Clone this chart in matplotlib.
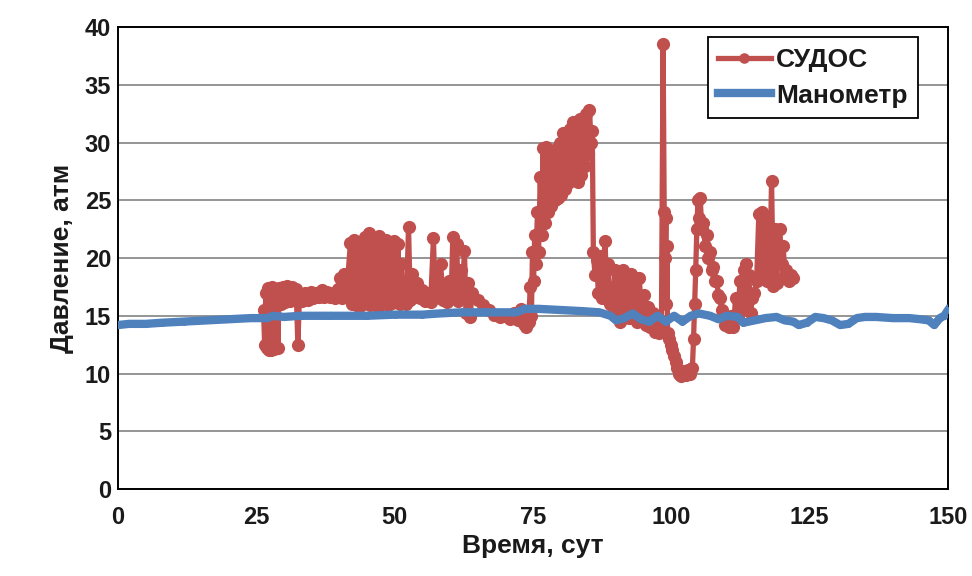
import matplotlib
matplotlib.use("Agg")
import matplotlib.pyplot as plt

plt.rcParams['font.family'] = ['Liberation Sans', 'DejaVu Sans']

# СУДОС readings (day, atm)
sudos_t = [26.3, 26.5, 26.7, 26.9, 27.1, 27.3, 27.5, 27.7, 27.9, 28.1, 28.3, 28.5, 28.7, 28.9, 29.1,
           29.4, 29.8, 30.2, 30.6, 31.0, 31.4, 31.8, 32.2, 32.5, 32.8,
           33.3, 33.8, 34.3, 34.8, 35.3, 35.8, 36.3, 36.8, 37.3, 37.8, 38.3, 38.8, 39.3, 39.8,
           40.2, 40.5, 40.8, 41.1, 41.4,
           42.0, 42.3, 42.6, 42.9, 43.3, 43.6, 44.0, 44.3, 44.7, 45.0, 45.3, 45.6, 46.0, 46.3, 46.6, 46.9,
           47.2, 47.5, 47.9, 48.2, 48.5, 48.8, 49.2, 49.5, 49.9, 50.2, 50.6, 50.9, 51.2, 51.5, 51.8, 52.1,
           52.5, 52.8, 53.2, 53.6, 54.0, 54.5, 55.0,
           55.5, 56.0, 56.5, 57.0, 57.3, 57.7, 58.0, 58.3, 58.7, 59.0, 59.4, 59.8, 60.2, 60.5, 60.8, 61.2,
           61.5, 61.9, 62.2, 62.6, 62.9, 63.3, 63.6, 64.0,
           65.0, 66.0, 67.0, 68.0, 69.0, 70.0, 70.8, 71.5, 72.2, 72.8, 73.3, 73.8, 74.2,
           74.5, 74.7, 74.9, 75.1, 75.3, 75.5, 75.8, 76.0, 76.3, 76.6, 76.8, 77.1, 77.4, 77.7, 78.0, 78.3,
           78.6, 78.9, 79.2, 79.5, 79.8, 80.1, 80.4, 80.7, 81.0, 81.3, 81.6, 81.9, 82.2, 82.5, 82.8, 83.1,
           83.4, 83.7, 84.0, 84.3, 84.6, 84.9, 85.2, 85.5, 85.7,
           85.9, 86.2, 86.5, 86.8, 87.1, 87.4, 87.7, 88.0, 88.3, 88.6, 88.9, 89.2, 89.5,
           89.8, 90.1, 90.5, 90.8, 91.2, 91.5, 91.9, 92.3, 92.7, 93.0, 93.4, 93.8, 94.2, 94.6, 95.0, 95.4,
           95.8, 96.2, 96.6, 97.0, 97.4, 97.8, 98.2,
           98.5, 98.7, 98.9, 99.0, 99.1, 99.2, 99.3, 99.6, 99.9, 100.2, 100.5, 100.8, 101.1, 101.4, 101.8,
           102.2, 102.6, 103.0, 103.4, 103.8,
           104.0, 104.2, 104.4, 104.6, 104.8, 105.0, 105.2, 105.5, 105.8, 106.1, 106.4, 106.7, 107.0, 107.3,
           107.6, 107.9, 108.2, 108.5, 108.8, 109.1, 109.4, 109.7,
           110.0, 110.4, 110.8, 111.2, 111.6, 112.0, 112.4, 112.8, 113.1, 113.4, 113.7, 114.0, 114.3, 114.6,
           115.0, 115.4, 115.8, 116.0, 116.3, 116.6, 116.9, 117.2, 117.5, 117.8, 118.1, 118.4, 118.7, 119.0,
           119.3, 119.6, 119.9, 120.2, 120.5, 120.8, 121.2, 121.6, 122.0]
sudos_p = [15.5, 12.5, 17.0, 12.2, 17.4, 12.0, 16.8, 12.0, 17.5, 12.1, 17.3, 12.3, 16.5, 12.2, 17.4,
           16.0, 17.5, 16.2, 17.6, 16.3, 17.5, 16.4, 17.3, 12.5, 16.8,
           16.3, 17.0, 16.4, 17.1, 16.5, 17.0, 16.6, 17.2, 16.6, 17.1, 16.6, 17.0, 16.5, 17.3,
           18.3, 16.5, 18.6, 16.8, 17.5,
           21.3, 16.0, 21.6, 16.2, 21.0, 15.8, 20.5, 16.0, 21.8, 16.2, 22.2, 15.9, 21.6, 16.1, 21.0, 15.8,
           21.9, 16.0, 21.3, 16.3, 21.6, 15.9, 20.8, 16.1, 21.5, 16.3, 21.2, 16.0, 19.5, 16.2, 17.5, 16.0,
           22.7, 16.4, 18.6, 16.6, 17.8, 16.5, 17.2,
           16.3, 17.0, 16.2, 21.7, 16.5, 18.5, 16.8, 19.5, 16.4, 17.6, 16.2, 18.0, 16.5, 21.8, 16.8, 21.2,
           16.3, 19.0, 16.6, 20.6, 15.2, 17.8, 14.9, 17.0,
           16.4, 15.9, 15.5, 15.1, 14.9, 15.0, 14.7, 15.2, 14.6, 15.6, 14.3, 14.0, 14.5,
           17.5, 15.0, 20.5, 18.0, 22.0, 19.5, 24.0, 20.5, 27.0, 22.0, 29.5, 23.0, 29.6, 24.0, 29.3, 24.5,
           29.0, 25.0, 29.4, 25.2, 30.0, 25.5, 30.8, 26.0, 30.5, 26.5, 31.2, 27.0, 31.8, 27.0, 31.5, 26.6,
           32.0, 27.2, 31.0, 28.0, 32.5, 29.0, 32.8, 30.0, 31.0,
           20.5, 18.5, 19.8, 17.0, 20.2, 16.5, 19.0, 21.5, 17.5, 19.5, 16.0, 17.5, 15.2,
           19.0, 15.0, 18.8, 14.5, 19.0, 15.5, 18.0, 14.8, 18.6, 15.2, 17.5, 14.5, 18.3, 14.8, 16.8, 14.2,
           15.8, 14.0, 15.2, 13.6, 14.3, 13.5, 14.0,
           38.5, 24.0, 20.0, 23.5, 16.0, 21.0, 13.5, 13.0, 12.5, 12.0, 11.5, 11.0, 10.5, 10.0, 9.8,
           10.2, 9.9, 10.3, 10.0, 10.5,
           13.0, 16.0, 19.0, 22.5, 25.0, 23.5, 25.2, 22.5, 23.0, 21.0, 22.0, 20.0, 20.5, 19.0,
           19.2, 18.0, 18.0, 16.8, 16.5, 15.5, 15.0, 14.2,
           14.5, 14.0, 15.0, 14.0, 16.5, 14.8, 18.0, 15.5, 19.0, 19.5, 16.0, 18.5, 15.2, 16.5,
           17.0, 18.0, 23.8, 18.5, 24.0, 19.0, 23.5, 18.0, 22.5, 19.0, 26.7, 17.6, 22.5, 17.8,
           20.5, 22.5, 19.5, 21.0, 18.5, 19.0, 18.0, 18.5, 18.3]

# Манометр readings
mano_t = [0, 2, 5, 8, 12, 16, 20, 24, 27, 28, 30, 33, 38, 45, 50, 55, 58, 62, 68, 72, 73.5, 76, 80,
          84, 87, 89, 90, 91.5, 93, 94.5, 96, 97.5, 99, 100.5, 102, 103.5, 105, 107, 108.5, 110, 112,
          113, 115, 117, 119, 120.5, 122, 123, 124.5, 126, 127.5, 129, 130.5, 132, 133.5, 135, 137,
          140, 143, 145, 146.5, 147.5, 148.5, 149.3, 150]
mano_p = [14.2, 14.3, 14.3, 14.4, 14.5, 14.6, 14.7, 14.8, 14.8, 15.0, 14.9, 15.0, 15.0, 15.0, 15.1,
          15.1, 15.2, 15.3, 15.3, 15.3, 15.6, 15.6, 15.5, 15.4, 15.3, 15.0, 14.6, 14.8, 15.2, 14.7,
          14.5, 15.0, 14.5, 15.0, 14.5, 15.0, 15.2, 15.0, 14.7, 15.0, 14.9, 14.4, 14.6, 14.8, 14.9,
          14.6, 14.5, 14.2, 14.4, 14.9, 14.8, 14.6, 14.2, 14.3, 14.8, 14.9, 14.9, 14.8, 14.8, 14.7,
          14.6, 14.2, 14.8, 15.0, 15.5]

fig = plt.figure(figsize=(9.72, 5.76), dpi=100)
ax = fig.add_axes([0.1214, 0.151, 0.854, 0.802])

ax.plot(sudos_t, sudos_p, color='#C0504D', lw=3.8, marker='o', ms=9.5,
        markeredgewidth=0, label='СУДОС', zorder=2)
ax.plot(mano_t, mano_p, color='#4F81BD', lw=6, marker='o', ms=5,
        markeredgewidth=0, label='Манометр', zorder=3)

ax.set_xlim(0, 150)
ax.set_ylim(0, 40)
ax.set_xticks(range(0, 151, 25))
ax.set_yticks(range(0, 41, 5))
ax.yaxis.grid(True, color='#8c8c8c', lw=1.3)
ax.set_axisbelow(True)
ax.tick_params(length=0, labelsize=17, labelcolor='#1a1a1a')
ax.tick_params(axis='x', pad=12)
ax.tick_params(axis='y', pad=5)
for lab in ax.get_xticklabels() + ax.get_yticklabels():
    lab.set_fontweight('bold')
for side in ['left', 'right', 'top', 'bottom']:
    ax.spines[side].set_color('black')
    ax.spines[side].set_linewidth(1.4)

ax.set_xlabel('Время, сут', fontsize=19, fontweight='bold', labelpad=4, color='#1a1a1a')
ax.set_ylabel('Давление, атм', fontsize=19, fontweight='bold', labelpad=8, color='#1a1a1a')

leg = ax.legend(loc='upper right', bbox_to_anchor=(0.964, 0.978), borderaxespad=0,
                prop={'weight': 'bold', 'size': 19}, handlelength=2.0, handletextpad=0.2,
                fancybox=False, framealpha=1, borderpad=0.4, labelspacing=0.45,
                markerscale=0.8)
leg.get_frame().set_edgecolor('black')
leg.get_frame().set_linewidth(1.3)
for txt in leg.get_texts():
    txt.set_color('#1a1a1a')

fig.savefig('out.png', dpi=100)
